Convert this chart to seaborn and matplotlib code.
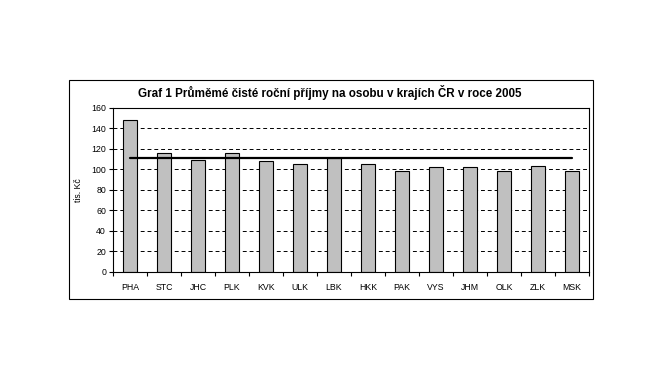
import numpy as np
import pandas as pd
import matplotlib
matplotlib.use("Agg")
import matplotlib.pyplot as plt
from matplotlib.patches import Rectangle
from matplotlib.ticker import FixedLocator
import seaborn as sns

regions = ["PHA", "STC", "JHC", "PLK", "KVK", "ULK", "LBK", "HKK", "PAK", "VYS", "JHM", "OLK", "ZLK", "MSK"]
income = [148, 115.5, 109, 115.5, 108, 105, 111, 105, 98, 102, 102, 98, 103, 98]
average = [111, 111, 111, 111, 111, 111, 111, 111, 111, 111, 111, 111, 111, 111]
yticks = [0, 20, 40, 60, 80, 100, 120, 140, 160]

sns.set_theme(style="white")
plt.rcParams['font.family'] = ['Liberation Sans', 'DejaVu Sans']

fig = plt.figure(figsize=(6.64, 3.77), dpi=100)
ax = fig.add_axes([113/664, 1-271.7/377, (589-113)/664, (271.7-107.7)/377])

df = pd.DataFrame({"region": regions, "income": income, "average": average})
sns.barplot(data=df, x="region", y="income", color="#C0C0C0", saturation=1,
            edgecolor="black", linewidth=0.8, width=0.42, ax=ax)
sns.lineplot(data=df, x="region", y="average", sort=False, color="black",
             linewidth=1.6, ax=ax)

ax.set_xlim(-0.5, len(regions) - 0.5)
ax.set_ylim(0, 160)
ax.set_yticks(yticks)
ax.set_yticklabels([str(v) for v in yticks])
ax.yaxis.grid(True, color="black", linestyle=(0, (4, 3)), linewidth=0.7)
ax.set_axisbelow(True)
for s in ax.spines.values():
    s.set_visible(True)
    s.set_color("black")
    s.set_linewidth(0.8)

ax.tick_params(axis="x", which="major", length=0, labelsize=6.3, pad=8, colors="black")
ax.xaxis.set_minor_locator(FixedLocator(np.arange(-0.5, len(regions), 1.0)))
ax.tick_params(axis="x", which="minor", length=3, width=0.8, direction="out", bottom=True, color="black")
ax.tick_params(axis="y", length=3, width=0.8, direction="out", left=True, labelsize=6.3, pad=2, colors="black")

ax.set_xlabel("")
ax.set_ylabel("tis. Kč", fontsize=6.3, labelpad=6, color="black")

fig.text(330/664, 1-93/377, "Graf 1 Průměmé čisté roční příjmy na osobu v krajích ČR v roce 2005",
         ha="center", va="center", fontsize=8.4, fontweight="bold", color="black")

fig.patches.append(Rectangle((69/664, 1-299/377), (593-69)/664, (299-80)/377, fill=False,
                             edgecolor="black", linewidth=0.8, transform=fig.transFigure))

fig.savefig("out.png", dpi=100, facecolor="white")
